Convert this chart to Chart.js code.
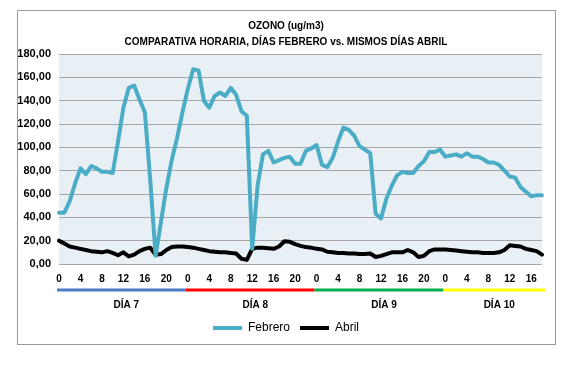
<!DOCTYPE html>
<html>
<head>
<meta charset="utf-8">
<script src="https://cdn.jsdelivr.net/npm/chart.js@4.4.1/dist/chart.umd.min.js"></script>
<style>
    html, body { margin: 0; padding: 0; background: #fff; }
    #wrap { position: relative; width: 579px; height: 369px; }
    #frame { position: absolute; left: 17px; top: 10px; width: 537px; height: 333px; border: 1px solid #9a9a9a; }
    canvas { position: absolute; left: 0; top: 0; }
</style>
</head>
<body>
<div id="wrap">
    <div id="frame"></div>
    <canvas id="chart" width="579" height="369"></canvas>
</div>
<script>
// hour of day for each point (days 7, 8, 9 and part of 10)
const hours = [
    0, 1, 2, 3, 4, 5, 6, 7, 8, 9, 10, 11, 12, 13, 14, 15, 16, 17, 18, 19, 20, 21, 22, 23,
    0, 1, 2, 3, 4, 5, 6, 7, 8, 9, 10, 11, 12, 13, 14, 15, 16, 17, 18, 19, 20, 21, 22, 23,
    0, 1, 2, 3, 4, 5, 6, 7, 8, 9, 10, 11, 12, 13, 14, 15, 16, 17, 18, 19, 20, 21, 22, 23,
    0, 1, 2, 3, 4, 5, 6, 7, 8, 9, 10, 11, 12, 13, 14, 15, 16, 17, 18
];
const days = ['DÍA 7', 'DÍA 8', 'DÍA 9', 'DÍA 10'];

const febrero = [
    44, 44, 54, 69, 82, 77, 84, 82, 79, 79, 78, 105, 134, 151, 153, 141, 130, 72, 7, 36, 65, 89, 108, 130,
    150, 167, 166, 140, 134, 144, 147, 144, 151, 145, 131, 127, 13, 67, 94, 97, 87, 89, 91, 92, 86, 86, 97, 99,
    102, 85, 83, 91, 105, 117, 115, 110, 101, 98, 95, 43, 39, 56, 67, 76, 79, 78, 78, 84, 88, 96, 96, 98,
    92, 93, 94, 92, 95, 92, 92, 90, 87, 87, 85, 80, 75, 74, 66, 62, 58, 59, 59
];
const abril = [
    20, 17.5, 15, 14, 13, 12, 11, 10.5, 10, 11, 9.5, 7.5, 10, 6.5, 8, 11, 13, 14, 8, 8.5, 12, 14.5, 15, 15,
    14.5, 14, 13, 12, 11, 10.5, 10, 10, 9.5, 9, 4.5, 3.5, 13, 14, 14, 13.5, 13, 15, 19.5, 19, 17, 15.5, 14.5, 14,
    13, 12.5, 10.5, 10, 9.5, 9.5, 9, 9, 8.5, 8.5, 9, 6, 7, 8.5, 10, 10, 10, 12, 10, 6, 7, 11, 12.5, 12.5,
    12.5, 12, 11.5, 11, 10.5, 10, 10, 9.5, 9.5, 9.5, 10, 12, 16, 15.5, 15, 13, 12, 11, 8
];

const FONT = '"Liberation Sans", Arial, sans-serif';
const dayColors = ['#4a7bc4', '#ff0000', '#00b050', '#ffff00'];

// plot area fill
const plotBg = {
    id: 'plotBg',
    beforeDraw(chart) {
        const { ctx, chartArea: a } = chart;
        ctx.save();
        ctx.fillStyle = '#e9f0f5';
        ctx.fillRect(a.left, a.top, a.right - a.left, a.bottom - a.top);
        ctx.restore();
    }
};

// coloured day bars + day names under the hour ticks
const dayBands = {
    id: 'dayBands',
    afterDraw(chart) {
        const { ctx, chartArea: a } = chart;
        const x = chart.scales.x;
        ctx.save();
        days.forEach((name, d) => {
            const start = x.getPixelForValue(24 * d) - 2;
            const end = d < days.length - 1 ? x.getPixelForValue(24 * (d + 1)) - 2 : a.right + 3;
            ctx.strokeStyle = dayColors[d];
            ctx.lineWidth = 3;
            ctx.beginPath();
            ctx.moveTo(start, a.bottom + 26);
            ctx.lineTo(end, a.bottom + 26);
            ctx.stroke();

            ctx.fillStyle = '#000';
            ctx.font = 'bold 10px ' + FONT;
            ctx.textAlign = 'center';
            ctx.textBaseline = 'middle';
            ctx.fillText(name, (start + end) / 2 + 5, a.bottom + 41);
        });
        ctx.restore();
    }
};

new Chart(document.getElementById('chart'), {
    type: 'line',
    data: {
        labels: hours,
        datasets: [
            {
                label: 'Febrero',
                data: febrero,
                borderColor: '#4bacc6',
                backgroundColor: '#4bacc6',
                borderWidth: 4,
                pointRadius: 0,
                tension: 0,
                borderJoinStyle: 'round',
                borderCapStyle: 'round'
            },
            {
                label: 'Abril',
                data: abril,
                borderColor: '#000000',
                backgroundColor: '#000000',
                borderWidth: 4,
                pointRadius: 0,
                tension: 0,
                borderJoinStyle: 'round',
                borderCapStyle: 'round'
            }
        ]
    },
    options: {
        responsive: false,
        animation: false,
        devicePixelRatio: 1,
        layout: { padding: { left: 17, right: 24, top: 10, bottom: 25 } },
        plugins: {
            title: {
                display: true,
                text: ['OZONO (ug/m3)', 'COMPARATIVA HORARIA, DÍAS FEBRERO vs. MISMOS DÍAS ABRIL'],
                color: '#000',
                font: { family: FONT, size: 10, weight: 'bold', lineHeight: 1.6 },
                padding: { top: 8, bottom: 4 }
            },
            legend: {
                position: 'bottom',
                labels: {
                    boxWidth: 29,
                    boxHeight: 4,
                    padding: 10,
                    color: '#000',
                    font: { family: FONT, size: 12 },
                    generateLabels(chart) {
                        return chart.data.datasets.map((ds, i) => ({
                            text: ds.label,
                            fillStyle: ds.borderColor,
                            strokeStyle: ds.borderColor,
                            lineWidth: 0,
                            hidden: false,
                            datasetIndex: i,
                            fontColor: '#000'
                        }));
                    }
                }
            },
            tooltip: { enabled: false }
        },
        scales: {
            x: {
                grid: { display: false, drawTicks: false },
                border: { display: false },
                ticks: {
                    autoSkip: false,
                    maxRotation: 0,
                    padding: 9,
                    color: '#000',
                    font: { family: FONT, size: 10, weight: 'bold' },
                    callback(v, i) { return hours[i] % 4 === 0 ? String(hours[i]) : ''; }
                },
                afterFit(s) { s.height = 48; }
            },
            y: {
                min: 0,
                max: 180,
                grid: { color: '#a6a6a6', drawTicks: false },
                border: { display: false },
                ticks: {
                    stepSize: 20,
                    padding: 8,
                    color: '#000',
                    font: { family: FONT, size: 11, weight: 'bold' },
                    callback: v => v.toFixed(2).replace('.', ',')
                },
                afterFit(s) { s.width = 42; }
            },
            // empty right-hand gutter so the plot ends where the reference does
            gutter: {
                position: 'right',
                grid: { display: false, drawTicks: false },
                border: { display: false },
                ticks: { display: false },
                afterFit(s) { s.width = 13; }
            }
        }
    },
    plugins: [plotBg, dayBands]
});
</script>
</body>
</html>
